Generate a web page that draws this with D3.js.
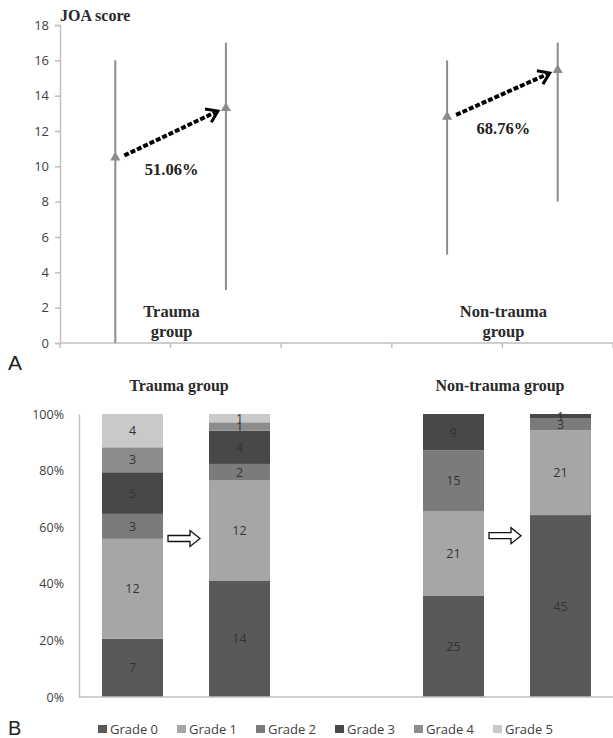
<!DOCTYPE html>
<html>
<head>
<meta charset="utf-8">
<script src="https://cdn.jsdelivr.net/npm/d3@7"></script>
<style>
  html, body { margin: 0; padding: 0; background: #fff; }
  svg { display: block; }
</style>
</head>
<body>
<svg id="chart" width="613" height="738"></svg>
<script>
// ---------- Panel A data ----------
const topCategories = ["Trauma pre", "Trauma post", "gap", "Non-trauma pre", "Non-trauma post"];
const joaMean = [10.5, 13.3, null, 12.8, 15.45];
const joaMin  = [0, 3, null, 5, 8];
const joaMax  = [16, 17, null, 16, 17];
const joaTicks = [0, 2, 4, 6, 8, 10, 12, 14, 16, 18];
const improvementLabels = ["51.06%", "68.76%"];
const groupLabels = [["Trauma", "group"], ["Non-trauma", "group"]];

// ---------- Panel B data ----------
const barCategories = ["Trauma pre", "Trauma post", "gap", "Non-trauma pre", "Non-trauma post"];
const grades = ["Grade 0", "Grade 1", "Grade 2", "Grade 3", "Grade 4", "Grade 5"];
const grade0 = [7, 14, 0, 25, 45];
const grade1 = [12, 12, 0, 21, 21];
const grade2 = [3, 2, 0, 15, 3];
const grade3 = [5, 4, 0, 9, 1];
const grade4 = [3, 1, 0, 0, 0];
const grade5 = [4, 1, 0, 0, 0];
const pctTicks = [0, 0.2, 0.4, 0.6, 0.8, 1.0];
const barGroupTitles = ["Trauma group", "Non-trauma group"];
const gradeColors = ["#595959", "#a6a6a6", "#7b7b7b", "#484848", "#8c8c8c", "#c9c9c9"];

const svg = d3.select("#chart");
const serif = "'Liberation Serif', 'Times New Roman', serif";
const sans = "'Open Sans', 'Liberation Sans', sans-serif";
const axisColor = "#bfbfbf";
const textColor = "#404040";

// ================= Panel A =================
const yA = d3.scaleLinear().domain([0, 18]).range([343, 25]);
const xA = d3.scaleBand().domain(topCategories).range([60, 613]).padding(0);
const cA = c => xA(c) + xA.bandwidth() / 2;

const gA = svg.append("g");
// y axis
const yAxisA = gA.append("g").attr("transform", "translate(60,0)")
  .call(d3.axisLeft(yA).tickValues(joaTicks).tickSize(5).tickPadding(6));
yAxisA.select(".domain").attr("stroke", axisColor).attr("stroke-width", 1.5);
yAxisA.selectAll(".tick line").attr("stroke", axisColor).attr("stroke-width", 1.5);
yAxisA.selectAll(".tick text").attr("font-family", sans).attr("font-size", 13).attr("fill", textColor);

// x axis
gA.append("line").attr("x1", 60).attr("x2", 613).attr("y1", yA(0)).attr("y2", yA(0))
  .attr("stroke", axisColor).attr("stroke-width", 1.5);
gA.selectAll(".xtickA").data(topCategories.concat(["end"])).join("line")
  .attr("x1", (d, i) => i < topCategories.length ? xA(d) : 613)
  .attr("x2", (d, i) => i < topCategories.length ? xA(d) : 613)
  .attr("y1", yA(0)).attr("y2", yA(0) + 5)
  .attr("stroke", axisColor).attr("stroke-width", 1.5);

// error bars
const pts = topCategories.map((c, i) => ({c, mean: joaMean[i], lo: joaMin[i], hi: joaMax[i]})).filter(d => d.mean !== null);
gA.selectAll(".err").data(pts).join("line")
  .attr("x1", d => cA(d.c)).attr("x2", d => cA(d.c))
  .attr("y1", d => yA(d.lo)).attr("y2", d => yA(d.hi))
  .attr("stroke", "#8c8c8c").attr("stroke-width", 2);
gA.selectAll(".mk").data(pts).join("path")
  .attr("d", d3.symbol(d3.symbolTriangle, 45))
  .attr("transform", d => `translate(${cA(d.c)},${yA(d.mean)})`)
  .attr("fill", "#8c8c8c");

// dashed arrows
[[0, 1], [3, 4]].forEach((pair, k) => {
  const a = pts.find(p => p.c === topCategories[pair[0]]);
  const b = pts.find(p => p.c === topCategories[pair[1]]);
  const x1 = cA(a.c) + 9, y1 = yA(a.mean) - 2;
  const x2 = cA(b.c) - 8, y2 = yA(b.mean) + 3;
  const ang = Math.atan2(y2 - y1, x2 - x1);
  const L = 13, h = 0.6;
  gA.append("line").attr("x1", x1).attr("y1", y1)
    .attr("x2", x2 - 3 * Math.cos(ang)).attr("y2", y2 - 3 * Math.sin(ang))
    .attr("stroke", "#000").attr("stroke-width", 4).attr("stroke-dasharray", "5,2");
  const p1 = [x2 - L * Math.cos(ang - h), y2 - L * Math.sin(ang - h)];
  const p2 = [x2 - L * Math.cos(ang + h), y2 - L * Math.sin(ang + h)];
  gA.append("path").attr("d", `M${p1}L${x2},${y2}L${p2}`)
    .attr("fill", "none").attr("stroke", "#000").attr("stroke-width", 3)
    .attr("stroke-linejoin", "miter");
  gA.append("text").attr("x", (cA(a.c) + cA(b.c)) / 2 + 1).attr("y", yA(a.mean) + 17)
    .attr("text-anchor", "middle").attr("font-family", serif).attr("font-weight", "bold")
    .attr("font-size", 16.5).attr("fill", "#222").text(improvementLabels[k]);
});

// group labels
[[0, 1], [3, 4]].forEach((pair, k) => {
  const cx = (xA(topCategories[pair[0]]) + xA(topCategories[pair[1]]) + xA.bandwidth()) / 2 + 1;
  groupLabels[k].forEach((t, j) => {
    gA.append("text").attr("x", cx).attr("y", 317 + j * 20)
      .attr("text-anchor", "middle").attr("font-family", serif).attr("font-weight", "bold")
      .attr("font-size", 16.5).attr("fill", "#2a2a2a").text(t);
  });
});

gA.append("text").attr("x", 60).attr("y", 21).attr("font-family", serif).attr("font-weight", "bold")
  .attr("font-size", 16).attr("fill", "#2a2a2a").text("JOA score");

svg.append("text").attr("x", 8).attr("y", 370).attr("font-family", "'Liberation Sans', Arial, sans-serif")
  .attr("font-size", 21).attr("fill", "#222").text("A");

// ================= Panel B =================
const yB = d3.scaleLinear().domain([0, 1]).range([697, 414]);
const xB = d3.scaleBand().domain(barCategories).range([79, 614]).paddingInner(0.43).paddingOuter(0.215);
const gB = svg.append("g");

const seriesArr = [grade0, grade1, grade2, grade3, grade4, grade5];
const rows = barCategories.map((c, i) => {
  const tot = d3.sum(seriesArr, s => s[i]);
  const r = {cat: c, total: tot};
  grades.forEach((g, j) => { r[g] = tot ? seriesArr[j][i] / tot : 0; r["n" + j] = seriesArr[j][i]; });
  return r;
}).filter(r => r.total > 0);

const stack = d3.stack().keys(grades)(rows);
stack.forEach((layer, j) => {
  const g = gB.append("g");
  layer.forEach(seg => {
    const n = seg.data["n" + j];
    if (!n) return;
    g.append("rect").attr("x", xB(seg.data.cat)).attr("width", xB.bandwidth())
      .attr("y", yB(seg[1])).attr("height", yB(seg[0]) - yB(seg[1]))
      .attr("fill", gradeColors[j]);
  });
});
// segment labels drawn above all rects
stack.forEach((layer, j) => {
  layer.forEach(seg => {
    const n = seg.data["n" + j];
    if (!n) return;
    gB.append("text").attr("x", xB(seg.data.cat) + xB.bandwidth() / 2)
      .attr("y", (yB(seg[0]) + yB(seg[1])) / 2 + 4.5)
      .attr("text-anchor", "middle").attr("font-family", sans).attr("font-size", 12.5)
      .attr("fill", "#333").text(n);
  });
});

// axes
const yAxisB = gB.append("g").attr("transform", "translate(79,0)")
  .call(d3.axisLeft(yB).tickValues(pctTicks).tickSize(0).tickPadding(15).tickFormat(d3.format(".0%")));
yAxisB.select(".domain").attr("stroke", axisColor).attr("stroke-width", 1.5);
yAxisB.selectAll(".tick text").attr("font-family", sans).attr("font-size", 12.5).attr("fill", textColor);
gB.append("line").attr("x1", 79).attr("x2", 614).attr("y1", yB(0)).attr("y2", yB(0))
  .attr("stroke", axisColor).attr("stroke-width", 1.5);

// hollow block arrows
[[0, 1], [3, 4]].forEach((pair, k) => {
  const xa = xB(barCategories[pair[0]]) + xB.bandwidth();
  const xb = xB(barCategories[pair[1]]);
  const cx = (xa + xb) / 2 - 2;
  const cy = k === 0 ? yB(0.56) : yB(0.57);
  const x0 = cx - 16, x1 = cx + 6, x2 = cx + 16;
  const d = `M${x0},${cy - 3}L${x1},${cy - 3}L${x1},${cy - 8}L${x2},${cy}L${x1},${cy + 8}L${x1},${cy + 3}L${x0},${cy + 3}Z`;
  gB.append("path").attr("d", d).attr("fill", "#fff").attr("stroke", "#111").attr("stroke-width", 1.3);
});

// titles
[[0, 1], [3, 4]].forEach((pair, k) => {
  const cx = (xB(barCategories[pair[0]]) + xB(barCategories[pair[1]]) + xB.bandwidth()) / 2 - 7;
  gB.append("text").attr("x", cx).attr("y", 391).attr("text-anchor", "middle")
    .attr("font-family", serif).attr("font-weight", "bold").attr("font-size", 16)
    .attr("fill", "#2a2a2a").text(barGroupTitles[k]);
});

// legend
const leg = gB.append("g");
grades.forEach((g, j) => {
  const lx = 98 + j * 79;
  leg.append("rect").attr("x", lx).attr("y", 725).attr("width", 9).attr("height", 8).attr("fill", gradeColors[j]);
  leg.append("text").attr("x", lx + 12).attr("y", 734).attr("font-family", sans).attr("font-size", 13)
    .attr("fill", textColor).text(g);
});

svg.append("text").attr("x", 8).attr("y", 735).attr("font-family", "'Liberation Sans', Arial, sans-serif")
  .attr("font-size", 20).attr("fill", "#222").text("B");
</script>
</body>
</html>
